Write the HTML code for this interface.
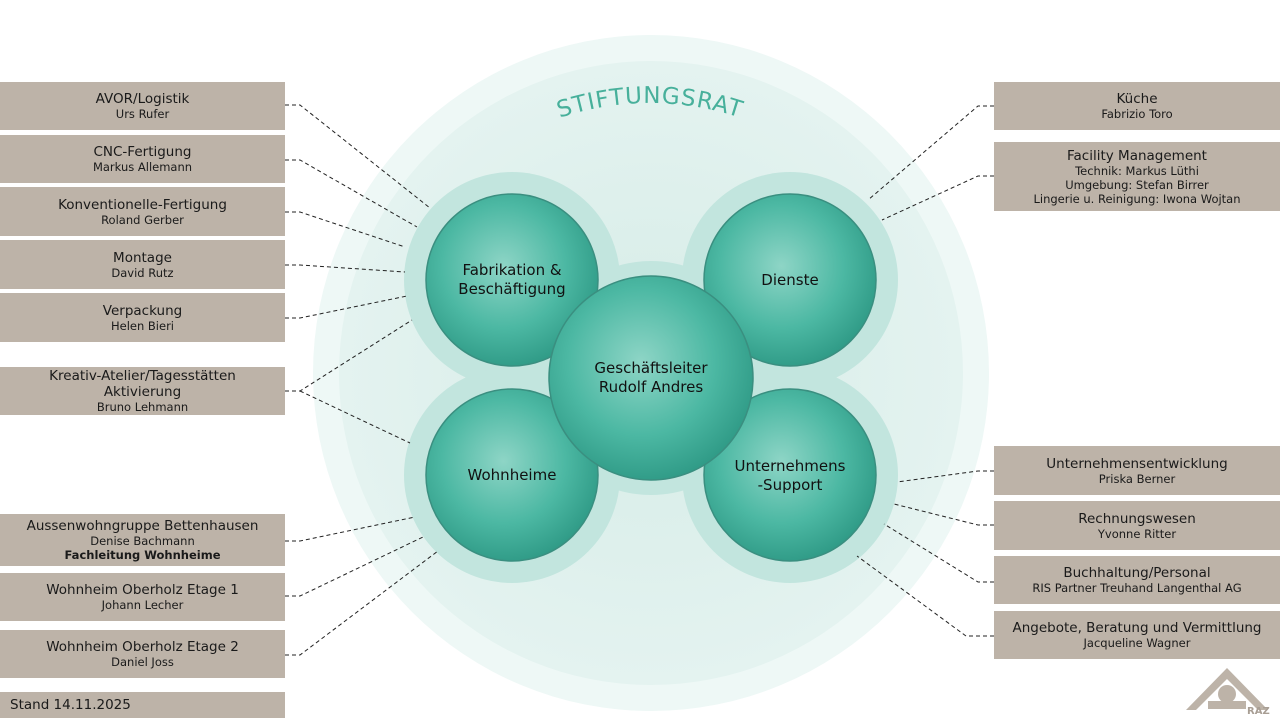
<!DOCTYPE html>
<html><head><meta charset="utf-8"><style>
body{margin:0;width:1280px;height:720px;background:#fff;position:relative;overflow:hidden;font-family:"DejaVu Sans","Liberation Sans",sans-serif;color:#1a1a1a}
.b{position:absolute;background:#bdb3a8;text-align:center;display:flex;flex-direction:column;justify-content:center;line-height:16px}
.b .t{font-size:13.5px}.b .s{font-size:11.5px;line-height:14px}
svg{position:absolute;left:0;top:0}
</style></head><body>
<svg width="1280" height="720">
<defs>
<radialGradient id="g" cx="45%" cy="42%" r="60%"><stop offset="0" stop-color="#8ed5c6"/><stop offset="0.6" stop-color="#4cb8a3"/><stop offset="1" stop-color="#2f9a86"/></radialGradient>
<radialGradient id="bg" cx="50%" cy="50%" r="50%"><stop offset="0" stop-color="#d6ece7"/><stop offset="1" stop-color="#e4f3f0"/></radialGradient>
<path id="arc" d="M 368 385 A 282 282 0 0 1 932 385"/>
</defs>
<circle cx="651" cy="373" r="338" fill="#eef8f6"/>
<circle cx="651" cy="373" r="312" fill="url(#bg)"/>
<g fill="#c2e5de">
<circle cx="512" cy="280" r="108"/><circle cx="790" cy="280" r="108"/>
<circle cx="512" cy="475" r="108"/><circle cx="790" cy="475" r="108"/>
<circle cx="651" cy="378" r="117"/>
</g>
<g fill="url(#g)" stroke="#3a8f80" stroke-width="1.5">
<circle cx="512" cy="280" r="86"/><circle cx="790" cy="280" r="86"/>
<circle cx="512" cy="475" r="86"/><circle cx="790" cy="475" r="86"/>
<circle cx="651" cy="378" r="102"/>
</g>
<text font-family="DejaVu Sans,sans-serif" font-size="23" letter-spacing="1" fill="#47b09b" text-anchor="middle"><textPath href="#arc" startOffset="50%">STIFTUNGSRAT</textPath></text>
<g font-family="DejaVu Sans,sans-serif" font-size="15" fill="#111" text-anchor="middle">
<text x="512" y="275">Fabrikation &amp;</text><text x="512" y="294">Beschäftigung</text>
<text x="790" y="285">Dienste</text>
<text x="512" y="480">Wohnheime</text>
<text x="790" y="471">Unternehmens</text><text x="790" y="490">-Support</text>
<text x="651" y="373">Geschäftsleiter</text><text x="651" y="392">Rudolf Andres</text>
</g>
<g fill="none" stroke="#222" stroke-width="1" stroke-dasharray="4,3">
<polyline points="285,105 300,105 430,208"/>
<polyline points="285,160 300,160 417,227"/>
<polyline points="285,212 300,212 405,247"/>
<polyline points="285,265 300,265 405,272"/>
<polyline points="285,318 300,318 407,296"/>
<polyline points="285,391 300,391 412,320"/>
<polyline points="300,391 410,443"/>
<polyline points="285,541 300,541 415,517"/>
<polyline points="285,596 300,596 423,537"/>
<polyline points="285,655 300,655 438,551"/>
<polyline points="994,106 978,106 868,200"/>
<polyline points="994,176 978,176 882,220"/>
<polyline points="994,471 978,471 897,482"/>
<polyline points="994,525 978,525 894,504"/>
<polyline points="994,582 978,582 884,524"/>
<polyline points="994,636 966,636 857,556"/>
</g>
<g fill="#bdb3a8">
<path d="M1186 710 L1227 668 L1268 710 L1258 710 L1227 679 L1196 710Z"/>
<circle cx="1227" cy="694" r="9"/>
<rect x="1208" y="701" width="38" height="8"/>
</g>
<text x="1247" y="714" font-family="DejaVu Sans,sans-serif" font-size="10" font-weight="bold" fill="#a89e94">RAZ</text>
</svg>
<div class="b" style="left:0;top:82px;width:285px;height:48px"><div class="t">AVOR/Logistik</div><div class="s">Urs Rufer</div></div>
<div class="b" style="left:0;top:135px;width:285px;height:48px"><div class="t">CNC-Fertigung</div><div class="s">Markus Allemann</div></div>
<div class="b" style="left:0;top:187px;width:285px;height:49px"><div class="t">Konventionelle-Fertigung</div><div class="s">Roland Gerber</div></div>
<div class="b" style="left:0;top:240px;width:285px;height:49px"><div class="t">Montage</div><div class="s">David Rutz</div></div>
<div class="b" style="left:0;top:293px;width:285px;height:49px"><div class="t">Verpackung</div><div class="s">Helen Bieri</div></div>
<div class="b" style="left:0;top:367px;width:285px;height:48px"><div class="t">Kreativ-Atelier/Tagesstätten</div><div class="t">Aktivierung</div><div class="s">Bruno Lehmann</div></div>
<div class="b" style="left:0;top:514px;width:285px;height:52px"><div class="t">Aussenwohngruppe Bettenhausen</div><div class="s">Denise Bachmann</div><div class="s" style="font-weight:bold">Fachleitung Wohnheime</div></div>
<div class="b" style="left:0;top:573px;width:285px;height:48px"><div class="t">Wohnheim Oberholz Etage 1</div><div class="s">Johann Lecher</div></div>
<div class="b" style="left:0;top:630px;width:285px;height:48px"><div class="t">Wohnheim Oberholz Etage 2</div><div class="s">Daniel Joss</div></div>
<div class="b" style="left:0;top:692px;width:285px;height:26px;text-align:left;padding-left:10px;box-sizing:border-box"><div class="t">Stand 14.11.2025</div></div>
<div class="b" style="left:994px;top:82px;width:286px;height:48px"><div class="t">Küche</div><div class="s">Fabrizio Toro</div></div>
<div class="b" style="left:994px;top:142px;width:286px;height:69px"><div class="t">Facility Management</div><div class="s">Technik: Markus Lüthi</div><div class="s">Umgebung: Stefan Birrer</div><div class="s">Lingerie u. Reinigung: Iwona Wojtan</div></div>
<div class="b" style="left:994px;top:446px;width:286px;height:49px"><div class="t">Unternehmensentwicklung</div><div class="s">Priska Berner</div></div>
<div class="b" style="left:994px;top:501px;width:286px;height:49px"><div class="t">Rechnungswesen</div><div class="s">Yvonne Ritter</div></div>
<div class="b" style="left:994px;top:556px;width:286px;height:48px"><div class="t">Buchhaltung/Personal</div><div class="s">RIS Partner Treuhand Langenthal AG</div></div>
<div class="b" style="left:994px;top:611px;width:286px;height:48px"><div class="t">Angebote, Beratung und Vermittlung</div><div class="s">Jacqueline Wagner</div></div>
</body></html>
